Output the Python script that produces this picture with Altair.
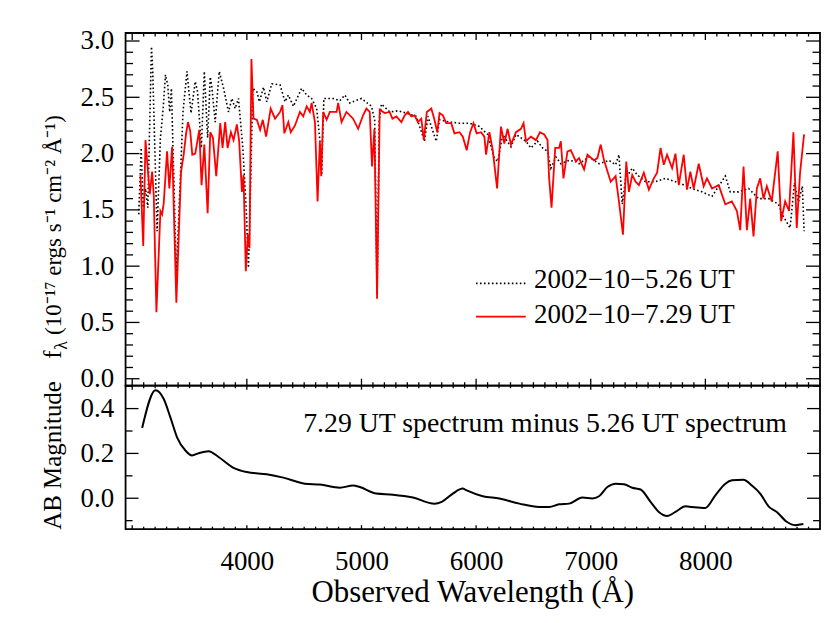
import altair as alt
import pandas as pd

# ---- data ----
wave_526 = [3057, 3078, 3096, 3116, 3136, 3168, 3179, 3217, 3246, 3270, 3290, 3310, 3327, 3342,
            3385, 3414, 3443, 3478, 3513, 3550, 3570, 3603, 3629, 3658, 3681, 3696, 3724, 3759,
            3797, 3840, 3870, 3898, 3927, 3965, 3994, 4014, 4023, 4052, 4087, 4110, 4145, 4174,
            4217, 4290, 4333, 4362, 4406, 4478, 4522, 4565, 4609, 4637, 4652, 4672, 4753, 4811,
            4855, 4898, 5000, 5087, 5115, 5136, 5155, 5174, 5246, 5318, 5391, 5478, 5550, 5580,
            5652, 5681, 5768, 5855, 5942, 6029, 6101, 6159, 6188, 6232, 6304, 6348, 6435, 6478,
            6536, 6580, 6623, 6652, 6696, 6739, 6811, 6870, 6898, 6985, 7072, 7159, 7217, 7246,
            7275, 7304, 7362, 7406, 7478, 7565, 7652, 7768, 7884, 7971, 8058, 8174, 8217, 8290,
            8377, 8464, 8551, 8638, 8681, 8739, 8777, 8812, 8846, 8861]
flux_526 = [1.46, 2.05, 1.52, 1.69, 1.52, 2.95, 2.73, 1.31, 2.14, 2.40, 2.70, 2.61, 2.37, 2.58,
            0.93, 1.63, 2.37, 2.73, 2.36, 2.64, 2.55, 2.05, 2.73, 2.14, 2.68, 2.58, 2.28, 2.73,
            2.58, 2.37, 2.49, 2.40, 2.49, 2.05, 1.52, 0.985, 1.28, 2.58, 2.55, 2.46, 2.59, 2.46,
            2.62, 2.61, 2.46, 2.52, 2.42, 2.58, 2.52, 2.49, 2.40, 2.12, 1.81, 2.49, 2.49, 2.47,
            2.52, 2.45, 2.49, 2.42, 2.30, 0.75, 2.30, 2.44, 2.37, 2.38, 2.36, 2.33, 2.11, 2.33,
            2.11, 2.30, 2.28, 2.27, 2.27, 2.24, 2.17, 1.96, 1.93, 2.17, 2.06, 2.17, 2.11, 2.05,
            2.11, 2.05, 2.02, 1.87, 1.97, 1.91, 1.94, 1.93, 1.91, 1.97, 1.91, 1.94, 1.90, 1.99,
            1.55, 1.78, 1.87, 1.81, 1.75, 1.75, 1.78, 1.74, 1.69, 1.66, 1.62, 1.80, 1.66, 1.66,
            1.69, 1.60, 1.60, 1.55, 1.44, 1.34, 1.74, 1.57, 1.71, 1.31]

wave_729 = [3072, 3096, 3116, 3153, 3174, 3188, 3211, 3246, 3261, 3275, 3304, 3324, 3348, 3385,
            3426, 3449, 3470, 3487, 3506, 3524, 3550, 3585, 3605, 3629, 3658, 3681, 3704, 3733,
            3768, 3788, 3811, 3832, 3861, 3884, 3913, 3933, 3957, 3971, 3991, 4009, 4023, 4040,
            4058, 4087, 4116, 4139, 4168, 4208, 4246, 4290, 4310, 4327, 4362, 4383, 4420, 4463,
            4492, 4522, 4550, 4565, 4594, 4617, 4637, 4649, 4666, 4696, 4724, 4783, 4797, 4826,
            4869, 4927, 4971, 5014, 5043, 5072, 5092, 5113, 5136, 5159, 5203, 5246, 5270, 5304,
            5348, 5377, 5406, 5435, 5463, 5492, 5522, 5544, 5570, 5609, 5637, 5661, 5681, 5710,
            5739, 5783, 5811, 5855, 5884, 5918, 5948, 5977, 6005, 6043, 6072, 6087, 6116, 6145,
            6183, 6217, 6246, 6275, 6304, 6348, 6391, 6414, 6435, 6478, 6522, 6557, 6594, 6623,
            6637, 6658, 6690, 6724, 6739, 6762, 6797, 6826, 6870, 6898, 6942, 6971, 7029, 7058,
            7087, 7116, 7174, 7217, 7246, 7281, 7310, 7333, 7362, 7391, 7420, 7463, 7507, 7550,
            7579, 7609, 7637, 7666, 7710, 7739, 7768, 7811, 7840, 7869, 7898, 7942, 7985, 8014,
            8058, 8116, 8174, 8231, 8275, 8304, 8333, 8362, 8391, 8420, 8449, 8478, 8507, 8536,
            8579, 8631, 8661, 8696, 8730, 8768, 8797, 8826, 8861]
flux_729 = [1.81, 1.18, 2.12, 1.64, 1.84, 1.63, 0.59, 1.49, 1.46, 1.56, 2.02, 1.69, 2.06, 0.675,
            1.84, 1.99, 2.18, 2.28, 2.20, 1.99, 2.00, 2.21, 1.72, 2.08, 1.47, 2.19, 2.14, 1.80,
            2.27, 2.05, 2.28, 2.05, 2.19, 2.12, 2.26, 2.11, 1.66, 1.81, 0.955, 1.28, 1.16, 2.84,
            2.31, 2.30, 2.21, 2.30, 2.15, 2.40, 2.31, 2.37, 2.43, 2.18, 2.28, 2.19, 2.25, 2.37,
            2.33, 2.42, 2.37, 2.45, 2.28, 1.575, 2.11, 1.80, 2.37, 2.30, 2.37, 2.37, 2.45, 2.28,
            2.37, 2.31, 2.22, 2.34, 2.40, 2.37, 1.885, 2.22, 0.71, 2.39, 2.36, 2.37, 2.31, 2.33,
            2.28, 2.34, 2.37, 2.33, 2.34, 2.28, 2.31, 2.12, 2.37, 2.40, 2.30, 2.19, 2.36, 2.34,
            2.27, 2.27, 2.18, 2.19, 2.15, 2.03, 2.19, 2.27, 2.18, 2.19, 2.15, 1.99, 2.19, 2.03,
            1.69, 2.24, 2.09, 2.22, 2.08, 2.19, 2.22, 2.27, 2.11, 2.15, 2.12, 2.19, 2.17, 2.12,
            1.78, 1.52, 2.05, 2.05, 2.11, 1.78, 2.02, 2.03, 1.93, 1.96, 1.86, 1.99, 1.94, 1.96,
            2.08, 1.94, 1.75, 1.80, 1.575, 1.28, 1.93, 1.66, 1.81, 1.75, 1.72, 1.83, 1.68, 1.78,
            1.83, 2.05, 1.90, 1.99, 1.87, 2.00, 1.72, 1.99, 1.68, 1.84, 1.69, 1.91, 1.71, 1.78,
            1.69, 1.72, 1.55, 1.575, 1.49, 1.32, 1.885, 1.32, 1.60, 1.265, 1.69, 1.78, 1.60, 1.71,
            1.575, 2.02, 1.40, 1.575, 1.49, 2.19, 1.34, 1.83, 2.17]

wave_diff = [3087, 3203, 3275, 3333, 3391, 3464, 3522, 3579, 3666, 3753, 3883, 4000, 4174, 4318,
             4507, 4637, 4811, 4927, 4985, 5130, 5275, 5449, 5637, 5700, 5797, 5884, 5913, 6058,
             6203, 6377, 6551, 6637, 6724, 6811, 6927, 7014, 7072, 7145, 7217, 7290, 7362, 7435,
             7522, 7594, 7667, 7739, 7826, 7884, 8000, 8087, 8174, 8232, 8333, 8405, 8478, 8551,
             8623, 8710, 8783, 8855]
mag_diff = [0.314, 0.482, 0.443, 0.361, 0.272, 0.213, 0.191, 0.201, 0.210, 0.184, 0.136, 0.117,
            0.107, 0.092, 0.065, 0.061, 0.047, 0.057, 0.050, 0.021, 0.016, 0.003, -0.024, -0.016,
            0.021, 0.043, 0.036, 0.009, -0.001, -0.024, -0.039, -0.039, -0.027, -0.024, 0.003,
            -0.001, 0.009, 0.050, 0.065, 0.062, 0.047, 0.039, -0.016, -0.061, -0.079, -0.061,
            -0.036, -0.039, -0.043, 0.013, 0.065, 0.080, 0.083, 0.057, 0.021, -0.036, -0.061,
            -0.105, -0.120, -0.115]

x_labels = [4000, 5000, 6000, 7000, 8000]
top_y_labels = [0.0, 0.5, 1.0, 1.5, 2.0, 2.5, 3.0]
bot_y_labels = [0.0, 0.2, 0.4]
legend_labels = ["2002\u221210\u22125.26 UT", "2002\u221210\u22127.29 UT"]
note_text = "7.29 UT spectrum minus 5.26 UT spectrum"

# ---- layout ----
FONT = "Liberation Serif"
W, H1, H2 = 697, 354, 144
xs = alt.Scale(domain=[2942, 9000], nice=False, zero=False)
ys_top = alt.Scale(domain=[-0.062, 3.071], nice=False, zero=False)
ys_bot = alt.Scale(domain=[-0.138, 0.502], nice=False, zero=False)

x_major = [v for v in range(3000, 9000, 1000)]
x_minor = [v for v in range(3000, 9000, 100) if v % 1000]
top_y_major = [i * 0.5 for i in range(7)]
top_y_minor = [round(i * 0.1, 1) for i in range(31) if i % 5]
bot_y_major = [0.0, 0.2, 0.4]
bot_y_minor = [-0.1, 0.1, 0.3, 0.5]


def xticks(vals, length, height):
    df = pd.DataFrame({"wave": vals})
    top = alt.Chart(df).mark_rule(color="black", strokeWidth=1.3).encode(
        x=alt.X("wave:Q", scale=xs), y=alt.value(0), y2=alt.value(length))
    bot = alt.Chart(df).mark_rule(color="black", strokeWidth=1.3).encode(
        x=alt.X("wave:Q", scale=xs), y=alt.value(height), y2=alt.value(height - length))
    return [top, bot]


def yticks(vals, length, scale):
    df = pd.DataFrame({"val": vals})
    left = alt.Chart(df).mark_rule(color="black", strokeWidth=1.3).encode(
        y=alt.Y("val:Q", scale=scale), x=alt.value(0), x2=alt.value(length))
    right = alt.Chart(df).mark_rule(color="black", strokeWidth=1.3).encode(
        y=alt.Y("val:Q", scale=scale), x=alt.value(W), x2=alt.value(W - length))
    return [left, right]


def label(text, x, y, size, align="left", angle=0, baseline="alphabetic"):
    return alt.Chart(pd.DataFrame({"t": [text]})).mark_text(
        font=FONT, fontSize=size, color="black", align=align, baseline=baseline, angle=angle
    ).encode(text="t:N", x=alt.value(x), y=alt.value(y))


# ---- top panel ----
df526 = pd.DataFrame({"wave": wave_526, "val": flux_526})
df729 = pd.DataFrame({"wave": wave_729, "val": flux_729})

top_axis_x = alt.X("wave:Q", scale=xs, axis=None)
black_line = alt.Chart(df526).mark_line(color="black", strokeWidth=1.6, strokeDash=[1.6, 2.4]).encode(
    x=top_axis_x,
    y=alt.Y("val:Q", scale=ys_top,
            axis=alt.Axis(values=top_y_labels, format=".1f", title=None, labelPadding=12)))
red_line = alt.Chart(df729).mark_line(color="#ff0000", strokeWidth=1.8).encode(
    x=top_axis_x, y=alt.Y("val:Q", scale=ys_top))

top_layers = [black_line, red_line]
for vals, ln in [(x_major, 7), (x_minor, 3.5)]:
    for r in xticks(vals, ln, H1):
        top_layers.append(r.encode(x=alt.X("wave:Q", scale=xs, axis=None)))
top_layers += yticks(top_y_major, 14, ys_top) + yticks(top_y_minor, 7.5, ys_top)

leg_df = pd.DataFrame({"a": [1]})
top_layers.append(alt.Chart(leg_df).mark_rule(color="black", strokeWidth=1.6, strokeDash=[1.6, 2.4]).encode(
    x=alt.value(351.7), x2=alt.value(401.7), y=alt.value(251.3)))
top_layers.append(alt.Chart(leg_df).mark_rule(color="#ff0000", strokeWidth=1.8).encode(
    x=alt.value(351.7), x2=alt.value(401.7), y=alt.value(284.7)))
top_layers.append(label(legend_labels[0], 410, 256.3, 27))
top_layers.append(label(legend_labels[1], 410, 290.7, 27))

# y title with subscript lambda
top_layers.append(label("f", -65, 327, 25, angle=270))
top_layers.append(label("\u03bb", -59, 318, 18, angle=270))
top_layers.append(label("(10\u207b\u00b9\u2077 ergs s\u207b\u00b9 cm\u207b\u00b2 \u00c5\u207b\u00b9)", -65, 303, 23, angle=270))
# layout anchor (invisible) fixing the plot origin on the page
top_layers.append(alt.Chart(leg_df).mark_rule(strokeOpacity=0, strokeWidth=1).encode(
    x=alt.value(-116.5), x2=alt.value(-115), y=alt.value(-22.5)))

top = alt.layer(*top_layers).properties(width=W, height=H1)

# ---- bottom panel ----
dfd = pd.DataFrame({"wave": wave_diff, "val": mag_diff})
diff_line = alt.Chart(dfd).mark_line(color="black", strokeWidth=2.0, interpolate="monotone").encode(
    x=alt.X("wave:Q", scale=xs,
            axis=alt.Axis(values=x_labels, format="d", title=None, labelPadding=19)),
    y=alt.Y("val:Q", scale=ys_bot,
            axis=alt.Axis(values=bot_y_labels, format=".1f", title=None, labelPadding=12)))
bot_layers = [diff_line]
bot_layers += xticks(x_major, 4, H2) + xticks(x_minor, 2.5, H2)
bot_layers += yticks(bot_y_major, 13, ys_bot) + yticks(bot_y_minor, 7, ys_bot)
bot_layers.append(label(note_text, 178.3, 46.7, 27.9))
bot_layers.append(label("AB Magnitude", -65, 70, 25, align="center", angle=270))
bot_layers.append(label("Observed Wavelength (\u00c5)", W / 2, 217, 31, align="center"))

bottom = alt.layer(*bot_layers).properties(width=W, height=H2)

chart = alt.vconcat(top, bottom, spacing=0, bounds="flush").properties(
    padding=0
).configure_view(
    stroke="black", strokeWidth=1.8
).configure_axis(
    labelFont=FONT, labelFontSize=27, labelColor="black", ticks=False, tickSize=0,
    domain=False, grid=False, labelFlush=False, labelOverlap=False
)

chart.save("out.html", embed_options={"renderer": "svg", "actions": False})
